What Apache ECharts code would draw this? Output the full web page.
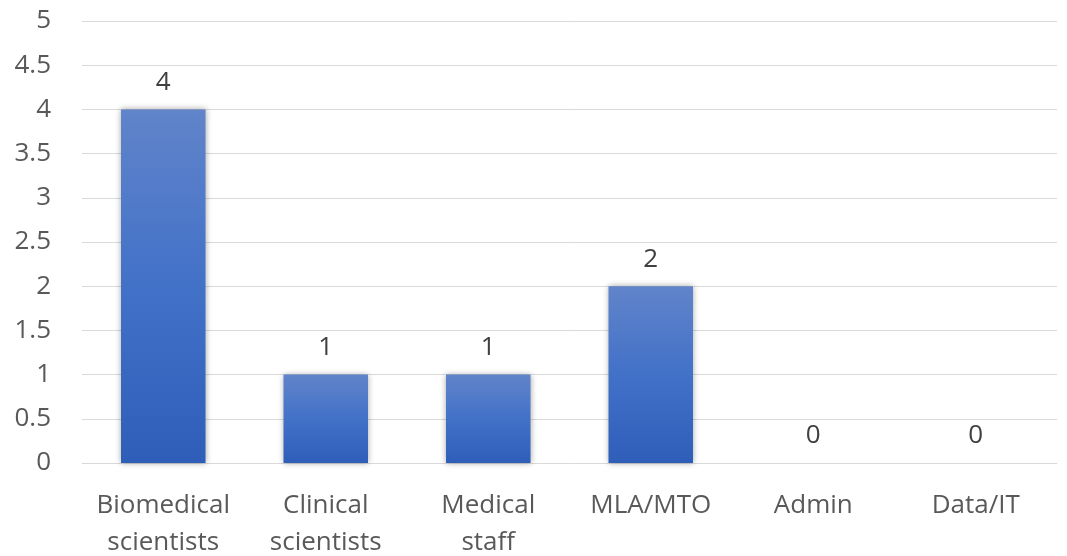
<!DOCTYPE html>
<html>
<head>
<meta charset="utf-8">
<script src="https://cdn.jsdelivr.net/npm/echarts@6/dist/echarts.min.js"></script>
<style>
  html, body { margin: 0; padding: 0; background: #fff; }
  #chart { width: 1067px; height: 556px; }
</style>
</head>
<body>
<div id="chart"></div>
<script>
// Staff groups and their counts
const categories = ['Biomedical\nscientists', 'Clinical\nscientists', 'Medical\nstaff', 'MLA/MTO', 'Admin', 'Data/IT'];
const counts = [4, 1, 1, 2, 0, 0];
const yTicks = { min: 0, max: 5, interval: 0.5 };

const textColor = '#595959';
const fontFamily = '"Open Sans", "Liberation Sans", sans-serif';

const chart = echarts.init(document.getElementById('chart'));
chart.setOption({
  animation: false,
  grid: { left: 82, right: 10, top: 21, bottom: 93, containLabel: false, outerBoundsMode: 'none' },
  xAxis: {
    type: 'category',
    data: categories,
    axisLine: { show: true, lineStyle: { color: '#d9d9d9', width: 1 } },
    axisTick: { show: false },
    axisLabel: {
      color: textColor, fontSize: 26, fontFamily: fontFamily,
      lineHeight: 37, margin: 24, interval: 0
    }
  },
  yAxis: {
    type: 'value',
    min: yTicks.min, max: yTicks.max, interval: yTicks.interval,
    axisLine: { show: false },
    axisTick: { show: false },
    splitLine: { lineStyle: { color: '#d9d9d9', width: 1 } },
    axisLabel: {
      color: textColor, fontSize: 26, fontFamily: fontFamily, margin: 31,
      formatter: v => String(v)
    }
  },
  series: [{
    type: 'bar',
    data: counts,
    barWidth: '52%',
    itemStyle: {
      color: new echarts.graphic.LinearGradient(0, 0, 0, 1, [
        { offset: 0, color: '#6184ca' },
        { offset: 0.5, color: '#4271c8' },
        { offset: 1, color: '#2e5eb8' }
      ]),
      shadowColor: 'rgba(0,0,0,0.35)',
      shadowBlur: 6,
      shadowOffsetX: 0,
      shadowOffsetY: 0
    },
    label: {
      show: true, position: 'top', distance: 14,
      color: '#404040', fontSize: 26, fontFamily: fontFamily
    }
  }]
});
</script>
</body>
</html>
